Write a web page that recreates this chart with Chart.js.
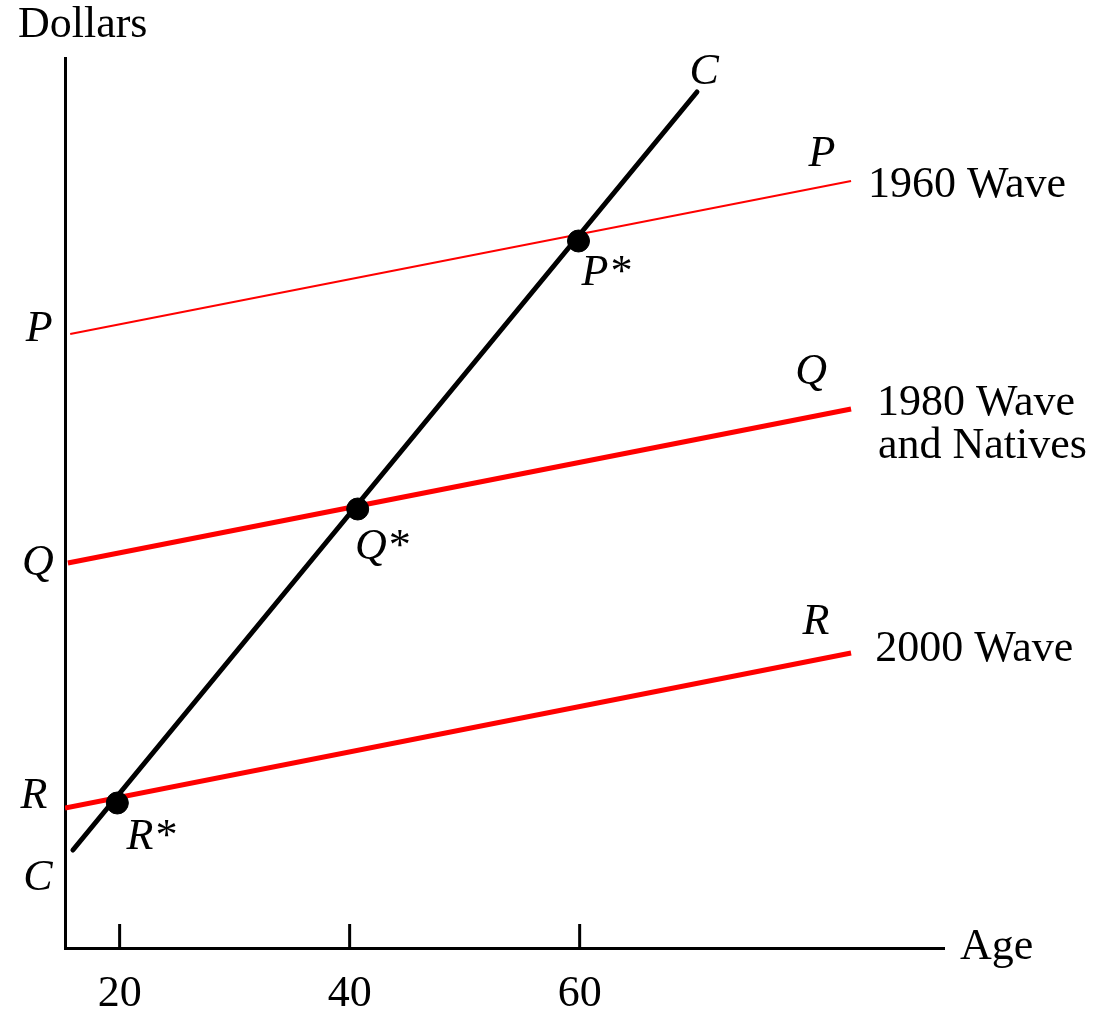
<!DOCTYPE html>
<html>
<head>
    <script src="https://cdn.jsdelivr.net/npm/chart.js@4.4.1/dist/chart.umd.min.js"></script>
    <title>Earnings and Age by Immigrant Wave</title>
    <style>
        body { margin: 0; background: #fff; }
        #wrap { width: 1097px; height: 1015px; }
    </style>
</head>
<body>
    <div id="wrap">
        <canvas id="ageChart" width="1097" height="1015"></canvas>
    </div>

    <script>
        // values (x = age, y = dollars, arbitrary units)
        const ageTicks = [20, 40, 60];

        const waveLabels = ['1960 Wave', '1980 Wave', '2000 Wave'];
        const waveStartAge = [15.7, 15.5, 15.25];
        const waveEndAge = [83.6, 83.6, 83.6];
        const waveStartDollars = [61.4, 38.5, 14.0];
        const waveEndDollars = [76.7, 53.9, 29.5];

        const cAges = [15.94, 70.2];
        const cDollars = [9.8, 85.6];

        const eqNames = ['P*', 'Q*', 'R*'];
        const eqAges = [59.9, 40.7, 19.8];
        const eqDollars = [70.7, 43.9, 14.5];

        // text placed in data coordinates
        const notes = [
            { text: 'Dollars', x: 11.16, y: 92.3, align: 'left' },
            { text: 'Age', x: 93.07, y: 0.1, align: 'left' },
            { text: 'C', x: 70.83, y: 87.6, italic: true },
            { text: 'P', x: 81.07, y: 79.4, italic: true },
            { text: 'Q', x: 80.12, y: 57.6, italic: true },
            { text: 'R', x: 80.55, y: 32.6, italic: true },
            { text: 'P', x: 13.0, y: 61.9, italic: true },
            { text: 'Q', x: 12.9, y: 38.5, italic: true },
            { text: 'R', x: 12.55, y: 15.2, italic: true },
            { text: 'C', x: 12.9, y: 7.0, italic: true },
            { text: eqNames[0], x: 62.29, y: 67.5, italic: true },
            { text: eqNames[1], x: 42.81, y: 40.1, italic: true },
            { text: eqNames[2], x: 22.73, y: 11.1, italic: true },
            { text: waveLabels[0], x: 85.07, y: 76.3, align: 'left' },
            { text: waveLabels[1], x: 85.85, y: 54.5, align: 'left' },
            { text: 'and Natives', x: 85.94, y: 50.15, align: 'left' },
            { text: waveLabels[2], x: 85.7, y: 29.9, align: 'left' }
        ];

        const serif = '"Liberation Serif", "Times New Roman", serif';

        const datasets = [];
        datasets.push({
            label: 'equilibrium',
            type: 'scatter',
            data: eqAges.map((a, i) => ({ x: a, y: eqDollars[i] })),
            backgroundColor: '#000',
            borderColor: '#000',
            pointRadius: 11,
            pointHoverRadius: 11
        });
        datasets.push({
            label: 'C',
            data: cAges.map((a, i) => ({ x: a, y: cDollars[i] })),
            borderColor: '#000',
            borderWidth: 5,
            borderCapStyle: 'round',
            pointRadius: 0
        });
        waveLabels.forEach((name, i) => {
            datasets.push({
                label: name,
                data: [
                    { x: waveStartAge[i], y: waveStartDollars[i] },
                    { x: waveEndAge[i], y: waveEndDollars[i] }
                ],
                borderColor: '#ff0000',
                borderWidth: i === 0 ? 2 : 5,
                pointRadius: 0
            });
        });

        const notesPlugin = {
            id: 'notes',
            afterDraw(chart) {
                const ctx = chart.ctx;
                const xs = chart.scales.x;
                const ys = chart.scales.y;
                ctx.save();
                // inward tick marks
                ctx.strokeStyle = '#000';
                ctx.lineWidth = 3;
                xs.ticks.forEach(t => {
                    const px = xs.getPixelForValue(t.value);
                    ctx.beginPath();
                    ctx.moveTo(px, ys.bottom - 24);
                    ctx.lineTo(px, ys.bottom);
                    ctx.stroke();
                });
                ctx.fillStyle = '#000';
                ctx.textBaseline = 'middle';
                notes.forEach(n => {
                    ctx.font = (n.italic ? 'italic ' : '') + '44px ' + serif;
                    ctx.textAlign = n.align || 'center';
                    ctx.fillText(n.text, xs.getPixelForValue(n.x), ys.getPixelForValue(n.y));
                });
                ctx.restore();
            }
        };

        const ctx = document.getElementById('ageChart');
        const chart = new Chart(ctx, {
            type: 'line',
            data: { datasets: datasets },
            options: {
                responsive: false,
                animation: false,
                events: [],
                layout: { padding: { left: 65, top: 58, right: 153, bottom: 0 } },
                plugins: {
                    legend: { display: false },
                    tooltip: { enabled: false }
                },
                scales: {
                    x: {
                        type: 'linear',
                        min: 15.25,
                        max: 91.68,
                        afterBuildTicks: s => { s.ticks = ageTicks.map(v => ({ value: v })); },
                        afterFit: s => { s.height = 67; },
                        grid: { display: false, drawTicks: false },
                        border: { display: true, color: '#000', width: 3 },
                        ticks: {
                            color: '#000',
                            padding: 20,
                            maxRotation: 0,
                            font: { family: serif, size: 44 }
                        }
                    },
                    y: {
                        type: 'linear',
                        min: 0,
                        max: 89,
                        afterFit: s => { s.width = 0; },
                        grid: { display: false, drawTicks: false },
                        border: { display: true, color: '#000', width: 3 },
                        ticks: { display: false }
                    }
                }
            },
            plugins: [notesPlugin]
        });
    </script>
</body>
</html>
